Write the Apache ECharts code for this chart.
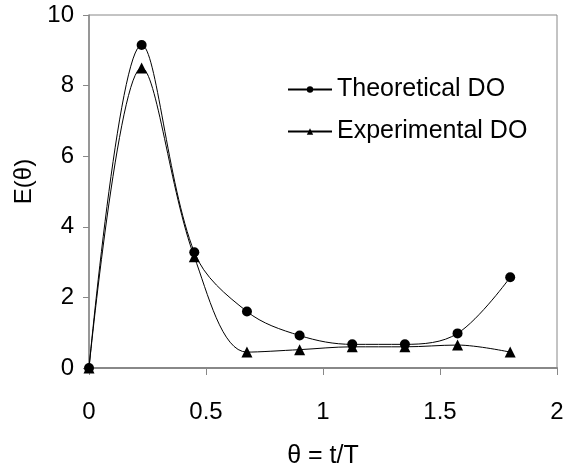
<!DOCTYPE html>
<html><head><meta charset="utf-8">
<script src="https://cdn.jsdelivr.net/npm/echarts@6/dist/echarts.min.js"></script>
<style>html,body{margin:0;padding:0;background:#fff}#c{width:568px;height:470px}</style>
</head><body><div id="c"></div>
<script>
const theta = [0, 0.225, 0.45, 0.675, 0.9, 1.125, 1.35, 1.575, 1.8];
const theoretical = [0, 9.15, 3.28, 1.6, 0.92, 0.67, 0.67, 0.98, 2.57];
const experimental = [0, 8.5, 3.15, 0.45, 0.52, 0.6, 0.6, 0.65, 0.45];
const seriesNames = ['Theoretical DO', 'Experimental DO'];

const pairs = (xs, ys) => xs.map((x, i) => [x, ys[i]]);
const font = 'Liberation Sans, Arial, sans-serif';
const chart = echarts.init(document.getElementById('c'));
chart.setOption({
  animation: false,
  grid: { left: 89, right: 11, top: 15, bottom: 102, show: true, borderColor: '#888', borderWidth: 1, outerBoundsMode: 'none', containLabel: false },
  legend: {
    left: 282, top: 72, orient: 'vertical', itemGap: 17, itemWidth: 44, itemHeight: 8,
    textStyle: { fontFamily: font, fontSize: 25, color: '#000' },
    data: seriesNames
  },
  xAxis: {
    type: 'value', min: 0, max: 2, interval: 0.5,
    name: 'θ = t/T', nameLocation: 'middle', nameGap: 76,
    nameTextStyle: { fontFamily: font, fontSize: 25, color: '#000' },
    axisLine: { lineStyle: { color: '#888', width: 2 } },
    axisTick: { show: true, length: 7, lineStyle: { color: '#888' } },
    axisLabel: { fontFamily: font, fontSize: 24, color: '#000', margin: 32 },
    splitLine: { show: false }
  },
  yAxis: {
    type: 'value', min: 0, max: 10, interval: 2,
    name: 'E(θ)', nameLocation: 'middle', nameGap: 53, nameRotate: 90,
    nameTextStyle: { fontFamily: font, fontSize: 24, color: '#000', padding: [0, 0, 0, 20] },
    axisLine: { show: true, lineStyle: { color: '#888', width: 1.5 } },
    axisTick: { show: true, length: 6, lineStyle: { color: '#888' } },
    axisLabel: { fontFamily: font, fontSize: 24, color: '#000', margin: 15 },
    splitLine: { show: false }
  },
  series: [
    {
      name: seriesNames[0], type: 'line', data: pairs(theta, theoretical), smooth: 0.35,
      symbol: 'circle', symbolSize: 10, lineStyle: { color: '#000', width: 1 },
      itemStyle: { color: '#000' }
    },
    {
      name: seriesNames[1], type: 'line', data: pairs(theta, experimental), smooth: 0.35,
      symbol: 'triangle', symbolSize: 11, lineStyle: { color: '#000', width: 1 },
      itemStyle: { color: '#000' }
    }
  ]
});
</script></body></html>
